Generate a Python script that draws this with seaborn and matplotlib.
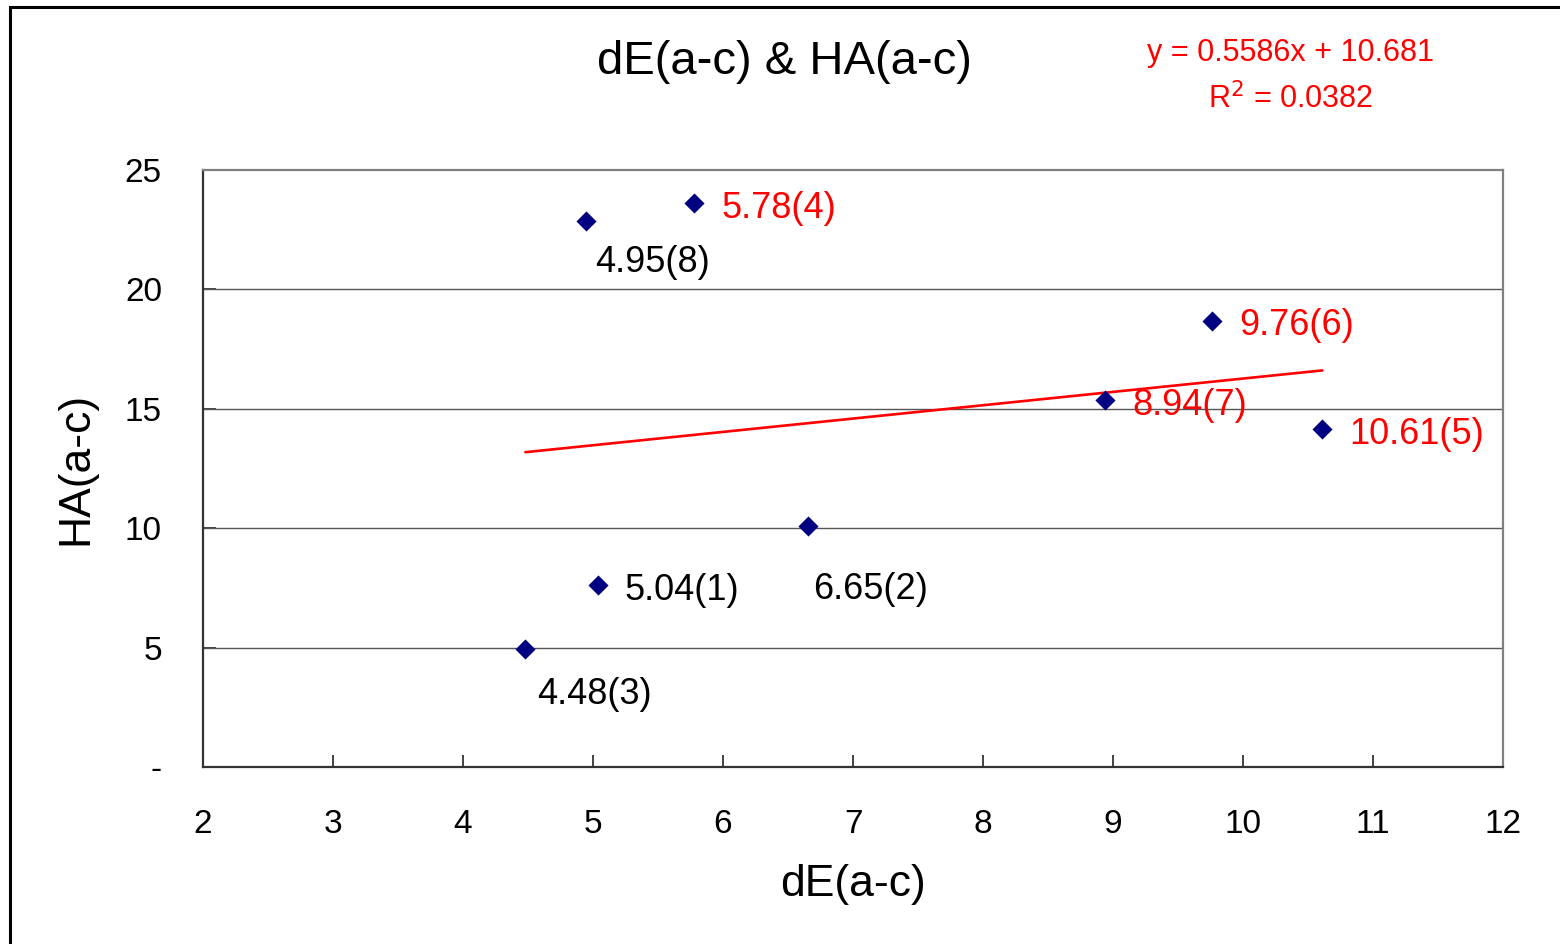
import matplotlib
matplotlib.use("Agg")
import matplotlib.pyplot as plt
import seaborn as sns
import pandas as pd
from matplotlib.patches import Rectangle

# data
de_values = [5.04, 6.65, 4.48, 5.78, 10.61, 9.76, 8.94, 4.95]
ha_values = [7.62, 10.09, 4.94, 23.62, 14.15, 18.68, 15.37, 22.86]
sample_ids = [1, 2, 3, 4, 5, 6, 7, 8]
highlighted = [4, 5, 6, 7]  # labels drawn in red
trend_slope = 0.5586
trend_intercept = 10.681
trend_r2 = 0.0382
x_ticks = [2, 3, 4, 5, 6, 7, 8, 9, 10, 11, 12]
y_ticks = [0, 5, 10, 15, 20, 25]
y_tick_labels = ["-", "5", "10", "15", "20", "25"]

df = pd.DataFrame({"dE": de_values, "HA": ha_values, "id": sample_ids})
df["label"] = [f"{x:.2f}({i})" for x, i in zip(df["dE"], df["id"])]

sns.set_style("white")
plt.rcParams["font.family"] = ["Liberation Sans", "DejaVu Sans"]
plt.rcParams["text.color"] = "black"
plt.rcParams["axes.labelcolor"] = "black"
plt.rcParams["xtick.color"] = "black"
plt.rcParams["ytick.color"] = "black"

fig = plt.figure(figsize=(15.6, 9.44), dpi=100)
ax = fig.add_axes([0.1301, 0.1875, 0.8334, 0.6324])

# outer chart frame
fig.patches.append(Rectangle((10 / 1560, -0.1), 1.2, 1.1 - 7 / 944,
                             transform=fig.transFigure, fill=False,
                             edgecolor="black", linewidth=2.2))

for y in y_ticks[1:-1]:
    ax.axhline(y, color="#555555", linewidth=1.0, zorder=1)

# trend line over the range of the points
xs = pd.Series([df["dE"].min(), df["dE"].max()])
ax.plot(xs, trend_slope * xs + trend_intercept, color="red", linewidth=1.9, zorder=2)

sns.scatterplot(data=df, x="dE", y="HA", marker="D", color="#000080",
                s=105, linewidth=0, ax=ax, zorder=3)

# label offsets in points (layout only)
offsets = {1: (18.7, -3.6), 2: (4.3, -46), 3: (8.6, -33), 4: (19.4, -4.3),
           5: (19.4, -3.6), 6: (19.4, -3.6), 7: (19.4, -4.3), 8: (6.5, -29.5)}
for _, row in df.iterrows():
    color = "red" if row["id"] in highlighted else "black"
    ax.annotate(row["label"], (row["dE"], row["HA"]), xytext=offsets[row["id"]],
                textcoords="offset points", ha="left", va="center",
                fontsize=26, color=color, zorder=4)

ax.set_xlim(2, 12)
ax.set_ylim(0, 25)
ax.set_xticks(x_ticks)
ax.set_yticks(y_ticks)
ax.set_yticklabels(y_tick_labels)
ax.tick_params(axis="both", direction="in", length=9, width=1.2, color="#222222",
               labelsize=24, left=True, bottom=True)
ax.tick_params(axis="x", pad=30)
ax.tick_params(axis="y", pad=29.5)

for side in ["left", "bottom"]:
    ax.spines[side].set_color("#333333")
    ax.spines[side].set_linewidth(1.6)
for side in ["top", "right"]:
    ax.spines[side].set_color("#808080")
    ax.spines[side].set_linewidth(1.6)

ax.set_xlabel("dE(a-c)", fontsize=32)
ax.set_ylabel("HA(a-c)", fontsize=32)
ax.xaxis.label.set_va("center")
ax.yaxis.label.set_va("center")
ax.xaxis.set_label_coords(0.5, -0.196)
ax.yaxis.set_label_coords(-0.0977, 0.5)

fig.text(0.503, 0.934, "dE(a-c) & HA(a-c)", ha="center", va="center", fontsize=34)
fig.text(0.827, 0.944, f"y = {trend_slope}x + {trend_intercept}", ha="center",
         va="center", fontsize=22, color="red")
fig.text(0.827, 0.895, f"R$^2$ = {trend_r2}", ha="center", va="center",
         fontsize=22, color="red")

fig.savefig("out.png", dpi=100)
